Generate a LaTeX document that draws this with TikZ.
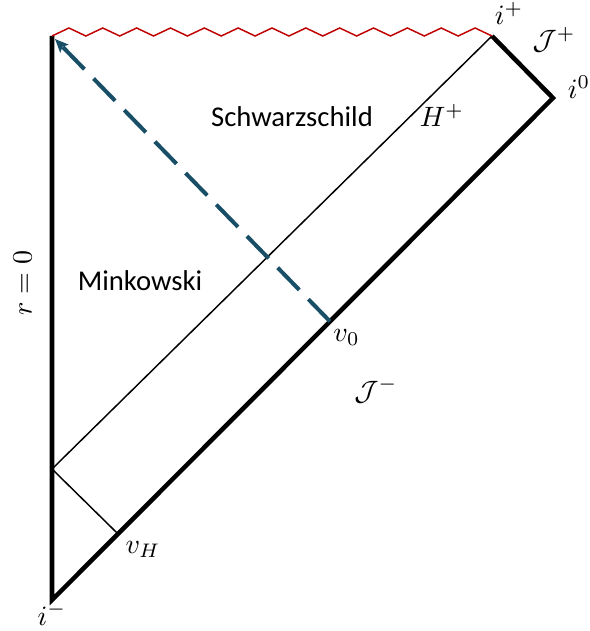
\documentclass[tikz,border=0pt]{standalone}
\usepackage{fontspec}
\newfontfamily\labfont{Carlito}
\usetikzlibrary{arrows.meta,calc}
\definecolor{wavered}{HTML}{C00000}
\definecolor{infallblue}{HTML}{184E66}
\newcommand{\mlab}[1]{\scalebox{2.1}{$#1$}}
\begin{document}
\begin{tikzpicture}[x=0.75pt,y=-0.75pt,
  thickline/.style={line width=3.4pt, line join=miter},
  thinline/.style={line width=1.1pt},
  wave/.style={draw=wavered, line width=1.1pt, line join=miter},
  infall/.style={draw=infallblue, line width=3pt, dash pattern=on 23.25pt off 9.75pt,
    -{Stealth[length=10pt,width=8.5pt,inset=2pt]}},
  region/.style={font=\labfont\fontsize{21.5}{25}\selectfont, anchor=base, inner sep=0pt},
  mlabel/.style={anchor=base, inner sep=0pt}]
\useasboundingbox (0,0) rectangle (589,631);
% corners
\coordinate (TL) at (52,36);
\coordinate (ip) at (492,36);
\coordinate (io) at (553,98);
\coordinate (im) at (52,600);
\coordinate (hb) at (52,469);
\coordinate (vH) at ($(im)!0.1317!(io)$);
\coordinate (v0) at ($(im)!0.5549!(io)$);
\coordinate (tip) at (55,39);
% thin lines
\draw[thinline] (hb) -- (ip);
\draw[thinline] (hb) -- (vH);
% thick boundary
\draw[thickline] (ip) -- (io) -- (im) -- (TL);
% singularity
\draw[wave] (TL) \foreach \k in {0,...,12} { -- ++(16.923,-8) -- ++(16.923,8) };
% infalling shell
\draw[infall] (v0) -- (tip);
% labels
\node[region] (schw) at (292,126.7) {Schwarzschild};
\node[region] (mink) at (140,290.7) {Minkowski};
\node[mlabel, rotate=90] (r0) at (31.5,283.3) {\mlab{r=0}};
\node[mlabel] (Hp) at (442,126.7) {\mlab{H^+}};
\node[mlabel] (lip) at (509,24.5) {\mlab{i^+}};
\node[mlabel] (Jp) at (554,50) {\mlab{\mathcal{J}^+}};
\node[mlabel] (lio) at (579,99) {\mlab{i^0}};
\node[mlabel] (lv0) at (346.5,341.7) {\mlab{v_0}};
\node[mlabel] (Jm) at (376,400) {\mlab{\mathcal{J}^-}};
\node[mlabel] (lvH) at (143,553) {\mlab{v_H}};
\node[mlabel] (lim) at (52,625) {\mlab{i^-}};
\end{tikzpicture}
\end{document}
